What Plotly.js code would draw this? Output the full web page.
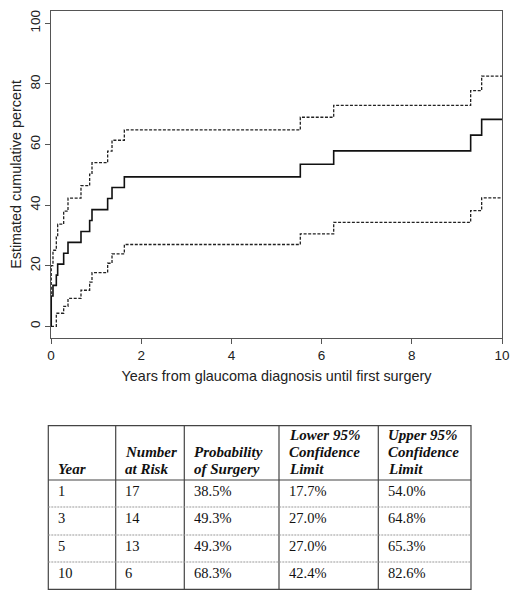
<!DOCTYPE html>
<html>
<head>
<meta charset="utf-8">
<script src="https://cdn.plot.ly/plotly-3.0.1.min.js"></script>
<style>html,body{margin:0;padding:0;background:#fff;}#chart{width:518px;height:599px;}</style>
</head>
<body>
<div id="chart"></div>
<script>
// ---- Data ----
const years    = [0, 0.005, 0.044, 0.118, 0.148, 0.281, 0.377, 0.665, 0.857, 0.909, 1.256, 1.353, 1.626, 5.528, 6.268, 9.305, 9.549, 10];
const estimate = [0, 10.0, 13.5, 16.9, 20.5, 24.1, 27.7, 31.3, 34.9, 38.5, 42.2, 45.8, 49.3, 53.5, 57.9, 63.1, 68.3, 68.3];
const upperCI  = [0, 20.0, 25.1, 29.5, 33.7, 38.0, 42.3, 46.4, 50.2, 54.0, 57.8, 61.4, 64.8, 69.0, 72.9, 77.8, 82.6, 82.6];
const lowerCI  = [0, 0, 0, 4.3, 4.3, 6.6, 9.2, 11.9, 14.6, 17.7, 20.8, 23.9, 27.0, 30.5, 34.3, 38.2, 42.4, 42.4];

const xTicks = [0, 2, 4, 6, 8, 10];
const yTicks = [0, 20, 40, 60, 80, 100];

const headerLines = [["Year"], ["Number", "at Risk"], ["Probability", "of Surgery"], ["Lower 95%", "Confidence", "Limit"], ["Upper 95%", "Confidence", "Limit"]];
const tableYears  = ["1", "3", "5", "10"];
const atRisk      = ["17", "14", "13", "6"];
const probSurgery = ["38.5%", "49.3%", "49.3%", "68.3%"];
const lowerLimit  = ["17.7%", "27.0%", "27.0%", "42.4%"];
const upperLimit  = ["54.0%", "64.8%", "65.3%", "82.6%"];

// ---- Layout geometry ----
const W = 518, H = 599;
const M = {l: 51, r: 16, t: 11, b: 261};
const PW = W - M.l - M.r, PH = H - M.t - M.b;
const px = x => (x - M.l) / PW;
const py = y => (M.t + PH - y) / PH;

const colEdges = [48.3, 115.7, 184.3, 279, 378.3, 471];
const rowEdges = [425.7, 480, 507, 535, 562, 589.3];
const headerBase = 474.5, headerStep = 17;
const cellPad = 7.5;

const serif = "Liberation Serif, Times New Roman, serif";
const sans = "Liberation Sans, Arial, Helvetica, sans-serif";

const traces = [
  {x: years, y: upperCI, mode: 'lines', line: {shape: 'hv', color: '#222', width: 1.3, dash: '3px,1.6px'}, hoverinfo: 'skip'},
  {x: years, y: lowerCI, mode: 'lines', line: {shape: 'hv', color: '#222', width: 1.3, dash: '3px,1.6px'}, hoverinfo: 'skip'},
  {x: years, y: estimate, mode: 'lines', line: {shape: 'hv', color: '#111', width: 1.6}, hoverinfo: 'skip'}
];

const shapes = [];
const borderCol = '#444';
shapes.push({type: 'rect', xref: 'paper', yref: 'paper', x0: px(colEdges[0]), x1: px(colEdges[5]), y0: py(rowEdges[0]), y1: py(rowEdges[5]), line: {color: borderCol, width: 1.2}});
for (let i = 1; i < colEdges.length - 1; i++) {
  shapes.push({type: 'line', xref: 'paper', yref: 'paper', x0: px(colEdges[i]), x1: px(colEdges[i]), y0: py(rowEdges[0]), y1: py(rowEdges[5]), line: {color: borderCol, width: 1.2}});
}
shapes.push({type: 'line', xref: 'paper', yref: 'paper', x0: px(colEdges[0]), x1: px(colEdges[5]), y0: py(rowEdges[1]), y1: py(rowEdges[1]), line: {color: borderCol, width: 1.2}});
for (let r = 2; r < rowEdges.length - 1; r++) {
  shapes.push({type: 'line', xref: 'paper', yref: 'paper', x0: px(colEdges[0]), x1: px(colEdges[5]), y0: py(rowEdges[r]), y1: py(rowEdges[r]), line: {color: '#999', width: 1, dash: '2px,1px'}});
}

const annotations = [];
const baselineToTop = 15.5;
headerLines.forEach((lines, c) => {
  const n = lines.length;
  lines.forEach((t, k) => {
    const base = headerBase - (n - 1 - k) * headerStep;
    annotations.push({xref: 'paper', yref: 'paper', x: px(colEdges[c] + cellPad), y: py(base - baselineToTop), xanchor: 'left', yanchor: 'top', showarrow: false, text: '<b><i>' + t + '</i></b>', font: {family: serif, size: 15, color: '#111'}});
  });
});
const columns = [tableYears, atRisk, probSurgery, lowerLimit, upperLimit];
columns.forEach((col, c) => {
  col.forEach((t, r) => {
    annotations.push({xref: 'paper', yref: 'paper', x: px(colEdges[c] + cellPad), y: py(rowEdges[r + 1] + 1), xanchor: 'left', yanchor: 'top', showarrow: false, text: t, font: {family: serif, size: 14.5, color: '#111'}});
  });
});

const axisCol = '#555';
const layout = {
  width: W, height: H,
  margin: M,
  paper_bgcolor: '#fff', plot_bgcolor: '#fff',
  showlegend: false,
  font: {family: sans, size: 14, color: '#222'},
  xaxis: {
    range: [0, 10], tickvals: xTicks, ticktext: xTicks.map(String),
    showgrid: false, zeroline: false, showline: true, mirror: true, linecolor: axisCol, linewidth: 1,
    ticks: 'outside', ticklen: 5, tickcolor: axisCol, tickwidth: 1,
    tickfont: {family: sans, size: 13.5, color: '#222'},
    title: {text: 'Years from glaucoma diagnosis until first surgery', font: {family: sans, size: 14.4, color: '#222'}, standoff: 8}
  },
  yaxis: {
    range: [-3.87, 104.07], tickvals: yTicks, ticktext: yTicks.map(String), tickangle: -90,
    showgrid: false, zeroline: false, showline: true, mirror: true, linecolor: axisCol, linewidth: 1,
    ticks: 'outside', ticklen: 5, tickcolor: axisCol, tickwidth: 1,
    tickfont: {family: sans, size: 13.5, color: '#222'},
    title: {text: 'Estimated cumulative percent', font: {family: sans, size: 14.4, color: '#222'}, standoff: 2}
  },
  shapes: shapes,
  annotations: annotations
};

Plotly.newPlot('chart', traces, layout, {staticPlot: true, displayModeBar: false});
</script>
</body>
</html>
